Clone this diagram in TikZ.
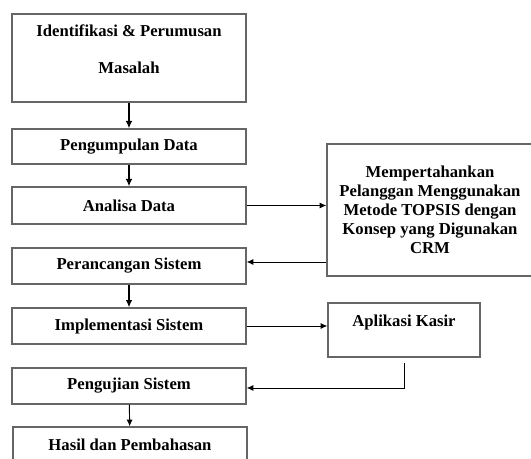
\documentclass[tikz,border=0pt]{standalone}
\usepackage{fontspec}
\setmainfont{Liberation Serif}
\usepackage{tikz}
\usetikzlibrary{arrows.meta,positioning,calc}

\tikzset{
  stepbox/.style={draw=black!60,line width=1pt,minimum width=175.5pt,
    minimum height=27pt,inner sep=2pt,align=center,
    font=\fontsize{12.5}{14.3}\selectfont\bfseries},
  arr/.style={draw=black,line width=0.7pt,-{Latex[length=5pt,width=4.5pt]}},
  downarr/.style={arr,line width=1pt,-{Latex[length=5.5pt,width=5pt]}}
}

\begin{document}
\begin{tikzpicture}[x=0.75pt,y=-0.75pt]
  \useasboundingbox[fill=white] (0,0) rectangle (531,459);
  % main column
  \node[stepbox,minimum height=66pt] (ident) at (129,58)
    {Identifikasi \& Perumusan\\[14pt]Masalah\\[-1pt]\mbox{}};
  \node[stepbox,minimum height=26.25pt] (kumpul) at (129,146.5) {Pengumpulan Data};
  \node[stepbox,minimum height=27.75pt] (analisa) at (129,205.5) {Analisa Data};
  \node[stepbox] (rancang) at (129,266) {Perancangan Sistem};
  \node[stepbox] (impl) at (129,326) {Implementasi Sistem};
  \node[stepbox] (uji) at (129,386) {Pengujian Sistem};
  \node[stepbox] (hasil) at (130,445) {Hasil dan Pembahasan};
  % side boxes
  \node[stepbox,minimum width=154.5pt,minimum height=99pt] (crm) at (430,210)
    {Mempertahankan\\Pelanggan Menggunakan\\Metode TOPSIS dengan\\Konsep yang Digunakan\\CRM};
  \node[stepbox,minimum width=114pt,minimum height=40.5pt] (kasir) at (404,330)
    {Aplikasi Kasir\\ \mbox{}};
  % flow
  \draw[downarr] (ident) -- (kumpul);
  \draw[downarr] (kumpul) -- (analisa);
  \draw[arr] (analisa.east) -- (analisa.east -| crm.west);
  \draw[arr] ([yshift=3pt]rancang.east -| crm.west) -- ([yshift=3pt]rancang.east);
  \draw[downarr] (rancang) -- (impl);
  \draw[arr] (impl.east) -- (impl.east -| kasir.west);
  \draw[arr] ([yshift=-4pt]kasir.south) |- ([yshift=-1.5pt]uji.east);
  \draw[arr] (uji) -- (hasil);
\end{tikzpicture}
\end{document}
